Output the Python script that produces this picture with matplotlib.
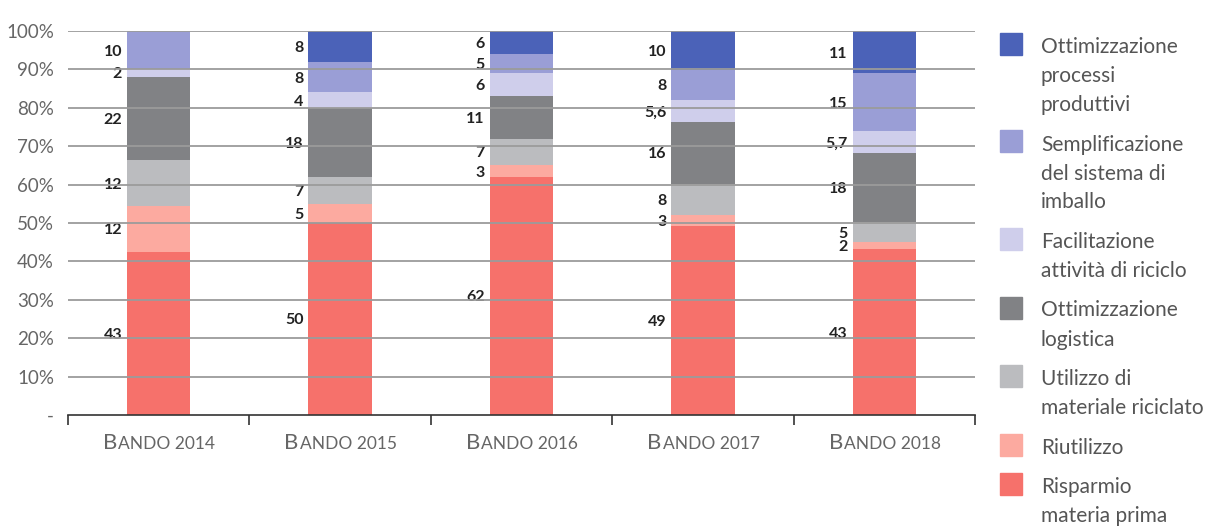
import matplotlib.pyplot as plt
from matplotlib.patches import Rectangle

bandi = ["Bando 2014", "Bando 2015", "Bando 2016", "Bando 2017", "Bando 2018"]

# stacked from the bottom up
categorie = [
    "Risparmio\nmateria prima",
    "Riutilizzo",
    "Utilizzo di\nmateriale riciclato",
    "Ottimizzazione\nlogistica",
    "Facilitazione\nattività di riciclo",
    "Semplificazione\ndel sistema di\nimballo",
    "Ottimizzazione\nprocessi\nproduttivi",
]
risparmio = [43, 50, 62, 49, 43]
riutilizzo = [12, 5, 3, 3, 2]
materiale_riciclato = [12, 7, 7, 8, 5]
logistica = [22, 18, 11, 16, 18]
facilitazione = [2, 4, 6, 5.6, 5.7]
semplificazione = [10, 8, 5, 8, 15]
processi = [0, 8, 6, 10, 11]

colori = ["#F6716B", "#FCAAA0", "#BBBCBF", "#818285", "#CFCEEB", "#9A9ED6", "#4B62B8"]

serie = [risparmio, riutilizzo, materiale_riciclato, logistica,
         facilitazione, semplificazione, processi]

plt.rcParams["font.family"] = ["Lato", "DejaVu Sans"]

DPI = 100
fig = plt.figure(figsize=(12.3, 5.27), dpi=DPI)
ax = fig.add_axes([68 / 1230, 1 - 415 / 527, 907 / 1230, 384 / 527])

n = len(bandi)
totali = [sum(s[i] for s in serie) for i in range(n)]
larghezza = 0.35
base = [0.0] * n

for valori, colore in zip(serie, colori):
    quote = [v / t * 100 for v, t in zip(valori, totali)]
    xs = [i + 0.5 for i in range(n)]
    ax.bar(xs, quote, width=larghezza, bottom=base, color=colore, zorder=1)
    for i, (v, q) in enumerate(zip(valori, quote)):
        if v <= 0:
            continue
        testo = f"{v:g}".replace(".", ",")
        ax.annotate(testo, xy=(i + 0.5 - larghezza / 2, base[i] + q / 2),
                    xytext=(-3.5, 0), textcoords="offset points",
                    ha="right", va="center_baseline", fontsize=11.5,
                    fontweight="bold", color="#222222")
    base = [b + q for b, q in zip(base, quote)]

ax.set_xlim(0, n)
ax.set_ylim(0, 100)
ax.set_yticks(range(0, 101, 10))
ax.set_yticklabels(["-"] + [f"{v}%" for v in range(10, 101, 10)])
ax.tick_params(axis="y", length=0, pad=10, labelsize=13.5, labelcolor="#666666")
ax.set_xticks(range(n + 1))
ax.set_xticklabels([])
ax.tick_params(axis="x", direction="out", length=7, width=1.2, color="#333333")

for y in range(10, 101, 10):
    ax.axhline(y, color="#9B9B9B", lw=1.3, zorder=3)

for lato in ["top", "right", "left"]:
    ax.spines[lato].set_visible(False)
ax.spines["bottom"].set_color("#333333")
ax.spines["bottom"].set_linewidth(1.2)
ax.spines["bottom"].set_zorder(4)

# category labels in small caps: first letter larger, the rest uppercase smaller
fig.canvas.draw()
renderer = fig.canvas.get_renderer()
for i, nome in enumerate(bandi):
    parti = []
    for pezzo, size in [(nome[0], 16), (nome[1:].upper(), 12.5)]:
        t = ax.annotate(pezzo, xy=(i + 0.5, 0), xycoords=("data", "axes fraction"),
                        xytext=(0, -24.5), textcoords="offset points",
                        ha="left", va="baseline", fontsize=size, color="#666666")
        parti.append(t)
    larghezze = [t.get_window_extent(renderer).width for t in parti]
    x0 = -sum(larghezze) / 2
    for t, w in zip(parti, larghezze):
        t.xyann = (x0 * 72 / DPI, -24.5)
        x0 += w + 1

# legend, top to bottom
top = 33
for nome, colore in zip(reversed(categorie), reversed(colori)):
    righe = nome.split("\n")
    fig.patches.append(Rectangle((1000 / 1230, 1 - (top + 22) / 527), 22 / 1230, 22 / 527,
                                 transform=fig.transFigure, color=colore))
    for k, riga in enumerate(righe):
        fig.text(1041 / 1230, 1 - (top + 20 + 29 * k) / 527, riga,
                 ha="left", va="baseline", fontsize=15, color="#555555")
    top += 29 * len(righe) + 10.5

fig.savefig("out.png", dpi=DPI)
